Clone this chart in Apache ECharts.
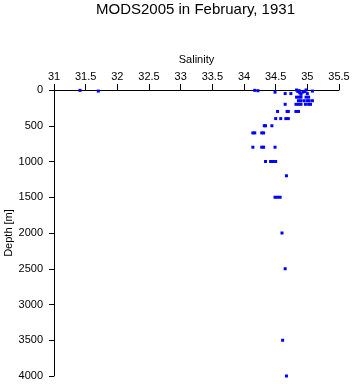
<!DOCTYPE html>
<html>
<head>
<meta charset="utf-8">
<script src="https://cdn.jsdelivr.net/npm/echarts@6/dist/echarts.min.js"></script>
<style>
  html, body { margin: 0; padding: 0; background: #fff; }
  #chart { width: 353px; height: 384px; }
</style>
</head>
<body>
<div id="chart"></div>
<script>
// salinity samples and their depths (m)
const salinity = [
    31.41, 31.70, 34.17, 34.22, 34.49, 34.65, 34.74, 34.83, 34.85, 34.87, 34.88, 34.90, 34.93, 34.96, 34.98, 35.00, 35.08,
    34.83, 34.87, 34.90, 34.98, 35.02,
    34.86, 34.90, 34.95, 35.00, 35.03, 35.08,
    34.65, 34.82, 34.86, 34.90, 34.97, 35.02, 35.05,
    34.53, 34.68, 34.70, 34.82, 34.86,
    34.50, 34.58, 34.66, 34.70,
    34.32, 34.34, 34.44,
    34.14, 34.17, 34.28, 34.31,
    34.14, 34.28, 34.31, 34.49,
    34.34, 34.42, 34.46, 34.50,
    34.67,
    34.49, 34.53, 34.57,
    34.60,
    34.65,
    34.61,
    34.67
];
const depth = [
    5, 15, 5, 10, 30, 50, 50, 0, 20, 10, 40, 60, 30, 20, 0, 50, 15,
    100, 100, 100, 100, 100,
    150, 150, 150, 150, 150, 150,
    200, 200, 200, 200, 200, 200, 200,
    300, 300, 300, 300, 300,
    400, 400, 400, 400,
    500, 500, 500,
    600, 600, 600, 600,
    800, 800, 800, 800,
    1000, 1000, 1000, 1000,
    1200,
    1500, 1500, 1500,
    2000,
    2500,
    3500,
    4000
];

const points = salinity.map((s, i) => [s, depth[i]]);

const chart = echarts.init(document.getElementById('chart'));
const font = 'Liberation Sans, Arial, sans-serif';

chart.setOption({
    animation: false,
    backgroundColor: '#fff',
    title: {
        text: 'MODS2005 in February, 1931',
        left: 91, top: -3,
        textStyle: { fontFamily: font, fontSize: 15, fontWeight: 'normal', color: '#000' }
    },
    grid: { left: 54, right: 14, top: 90, bottom: 8, containLabel: false, outerBoundsMode: 'none' },
    xAxis: {
        type: 'value', position: 'top',
        min: 31, max: 35.5, interval: 0.5,
        name: 'Salinity', nameLocation: 'middle', nameGap: 25, nameMoveOverlap: false,
        nameTextStyle: { fontFamily: font, fontSize: 11, color: '#000' },
        axisLine: { lineStyle: { color: '#000', width: 1 } },
        axisTick: { length: 6, lineStyle: { color: '#000' } },
        axisLabel: { fontFamily: font, fontSize: 11, color: '#000', margin: 8, formatter: v => String(v) },
        splitLine: { show: false }
    },
    yAxis: {
        type: 'value', inverse: true,
        min: 0, max: 4000, interval: 500,
        name: 'Depth [m]', nameLocation: 'middle', nameGap: 40, nameMoveOverlap: false,
        nameTextStyle: { fontFamily: font, fontSize: 11, color: '#000' },
        axisLine: { show: true, lineStyle: { color: '#000', width: 1 } },
        axisTick: { show: true, length: 5, lineStyle: { color: '#000' } },
        axisLabel: { fontFamily: font, fontSize: 11, color: '#000', margin: 11, formatter: v => String(v) },
        splitLine: { show: false }
    },
    series: [{
        type: 'scatter',
        data: points,
        symbol: 'rect',
        symbolSize: 3,
        itemStyle: { color: '#0000ff', opacity: 1 }
    }]
});
</script>
</body>
</html>
